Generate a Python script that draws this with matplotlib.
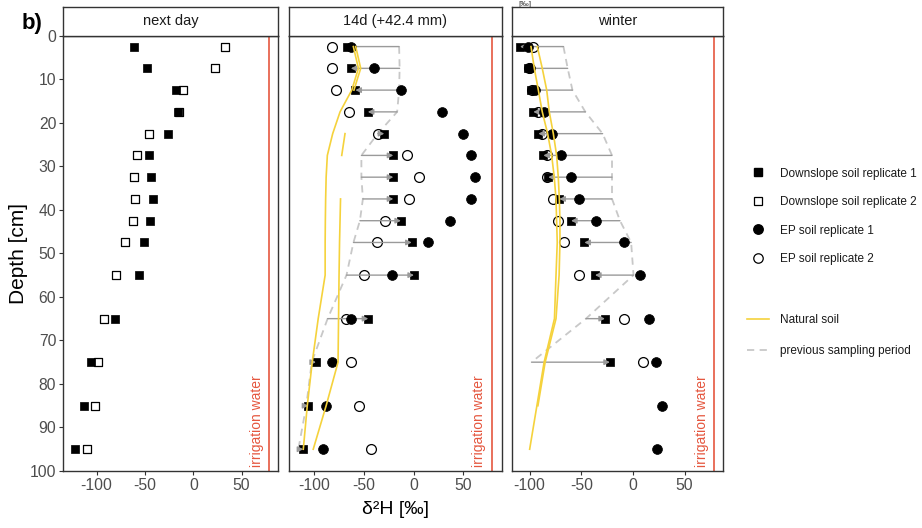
import numpy as np
import matplotlib
matplotlib.use("Agg")
import matplotlib.pyplot as plt
from matplotlib.lines import Line2D

plt.rcParams['font.family'] = ['Liberation Sans', 'DejaVu Sans']
plt.rcParams['axes.unicode_minus'] = False

nan = np.nan

# ---------------- data ----------------
depth = [2.5, 7.5, 12.5, 17.5, 22.5, 27.5, 32.5, 37.5, 42.5, 47.5, 55, 65, 75, 85, 95]
panel_titles = ["next day", "14d (+42.4 mm)", "winter"]
irrigation_water = 78.6

# next day
nd_ds1 = [-61, -48, -17.7, -16, -26.7, -45.5, -43.7, -41.3, -44.8, -51, -56, -81, -106, -113.5, -122]
nd_ds2 = [32.6, 22, -10.7, -15, -45.8, -58.7, -61, -60.4, -62.8, -70.5, -79.5, -92, -99, -102, -109.7]

# 14 d
d14_ds1 = [-67.3, -63.2, -58.6, -46.1, -29.4, -20.3, -20.3, -20.3, -12.6, -1.8, 0.5, -45.5, -98.2, -105.9, -111]
d14_ep1 = [-63.2, -39.8, -12.9, 28.4, 49.5, 57.9, 61.9, 58.2, 36.8, 14.3, -21.7, -62.6, -81.8, -88.4, -90.8]
d14_ep2 = [-81.8, -81.8, -78, -64.6, -36, -6.5, 5.9, -4.9, -28.7, -36.5, -49.8, -68.3, -63.2, -54.6, -42.8]
d14_prev = [-14.5, -14, -14.5, -16.5, -36, -52.5, -52.5, -51, -54, -60.5, -67.5, -86.5, -102.5, -108, -116]
d14_nat_a = [-60.6, -55.5, -62.2, -74, -81.4, -86.8, -88, -88.5, -88.8, -89, -89, -96, -102, -107, -111]
d14_nat_b = [-58.2, -53.2, -60, nan, -69, -72.3, nan, -73.5, -74, -74.5, -75, -75.5, -76, -88, -101]

# winter
w_ds1 = [-109.4, -101.3, -98.7, -96.5, -91.6, -86.8, -82, -71.3, -60, -47.1, -36.8, -27.1, -22.3, nan, nan]
w_ep1 = [-102, -100, -94.9, -86.2, -78.1, -69.7, -60.3, -52.3, -35.8, -8.7, 6.8, 15.5, 22.3, 27.8, 23.5]
w_ep2 = [-96.5, -101, -98, -91.6, -87.7, -83.5, -83, -77.1, -72.9, -66.8, -52.3, -8.4, 9.4, nan, nan]
w_prev = [-67.3, -63.2, -58.6, -46.1, -29.4, -20.3, -20.3, -20.3, -12.6, -1.8, 0.5, -45.5, -98.2, nan, nan]
w_nat_a = [-98.7, -95.5, -91.6, -87.8, -82.6, -78.7, -76.2, -74.5, -73.9, -73.3, -74.5, -76, -86, -93, -100]
w_nat_b = [-92.6, -87.8, -83.5, -81, -77.1, -73.9, -72.3, -71.3, -70.7, -70.7, -71.5, -74.5, -85, -92, nan]

xticks = [-100, -50, 0, 50]
yticks = [0, 10, 20, 30, 40, 50, 60, 70, 80, 90, 100]

panels = [
    dict(ds1=nd_ds1, ds2=nd_ds2, ep1=None, ep2=None, prev=None, nat=None),
    dict(ds1=d14_ds1, ds2=None, ep1=d14_ep1, ep2=d14_ep2, prev=d14_prev, nat=(d14_nat_a, d14_nat_b)),
    dict(ds1=w_ds1, ds2=None, ep1=w_ep1, ep2=w_ep2, prev=w_prev, nat=(w_nat_a, w_nat_b)),
]

# ---------------- layout ----------------
W, H = 922, 528
fig = plt.figure(figsize=(W / 100, H / 100), dpi=100)

def fx(px):
    return px / W

def fy(py):
    return 1 - py / H

lefts = [63.3, 289.0, 512.3]
rights = [278.3, 501.7, 723.3]
xlims = [(-134.5, 87.9), (-125.4, 88.8), (-116.8, 87.4)]
p_top, p_bot, s_top = 35.7, 471.0, 6.7

frame_col = '#333333'
tick_col = '#4d4d4d'
red = '#e5573f'
yellow = '#f5d23c'
dash_col = '#c8c8c8'
arrow_col = '#9a9a9a'

for i, pdata in enumerate(panels):
    l, r = lefts[i], rights[i]
    ax = fig.add_axes([fx(l), fy(p_bot), (r - l) / W, (p_bot - p_top) / H])
    ax.set_xlim(*xlims[i])
    ax.set_ylim(100, 0)
    ax.set_xticks(xticks)
    ax.set_yticks(yticks)
    for sp in ax.spines.values():
        sp.set_color(frame_col)
        sp.set_linewidth(1.0)
    ax.tick_params(colors=frame_col, labelcolor=tick_col, labelsize=11.3, length=3, width=0.8, pad=2)
    if i > 0:
        ax.tick_params(left=False, labelleft=False)

    # irrigation water
    ax.axvline(irrigation_water, color=red, lw=1.2, zorder=1)
    ax.annotate('irrigation water', xy=(irrigation_water, 100), xytext=(-12.6, 4),
                textcoords='offset pixels', rotation=90, ha='center', va='bottom',
                color=red, fontsize=10)

    # previous sampling period + arrows
    if pdata['prev'] is not None:
        ax.plot(pdata['prev'], depth, color=dash_col, lw=1.3, ls=(0, (4, 3)), zorder=2)
        for xp, xc, d in zip(pdata['prev'], pdata['ds1'], depth):
            if np.isfinite(xp) and np.isfinite(xc):
                ax.annotate('', xy=(xc, d), xytext=(xp, d),
                            arrowprops=dict(arrowstyle='-|>', color=arrow_col, lw=1.0,
                                            mutation_scale=8, shrinkA=0, shrinkB=0),
                            zorder=5)

    if pdata['ep2'] is not None:
        ax.scatter(pdata['ep2'], depth, s=50, marker='o', facecolor='white',
                   edgecolor='black', linewidth=0.9, zorder=3)
    if pdata['ds2'] is not None:
        ax.scatter(pdata['ds2'], depth, s=40, marker='s', facecolor='white',
                   edgecolor='black', linewidth=0.9, zorder=3)
    ax.scatter(pdata['ds1'], depth, s=40, marker='s', facecolor='black',
               edgecolor='black', linewidth=0.5, zorder=4)
    if pdata['ep1'] is not None:
        ax.scatter(pdata['ep1'], depth, s=50, marker='o', facecolor='black',
                   edgecolor='black', linewidth=0.5, zorder=6)
    if pdata['nat'] is not None:
        for line in pdata['nat']:
            ax.plot(line, depth, color=yellow, lw=1.2, zorder=7)

    # strip
    sax = fig.add_axes([fx(l), fy(p_top), (r - l) / W, (p_top - s_top) / H])
    sax.set_xticks([])
    sax.set_yticks([])
    sax.set_facecolor('white')
    for sp in sax.spines.values():
        sp.set_color(frame_col)
        sp.set_linewidth(1.0)
    sax.text(0.5, 0.5, panel_titles[i], ha='center', va='center',
             fontsize=10.5, color='#1a1a1a', transform=sax.transAxes)

# labels
fig.text(fx(22), fy(24), 'b)', fontsize=16, fontweight='bold', ha='left', va='center')
fig.text(fx(18), fy(253), 'Depth [cm]', rotation=90, ha='center', va='center', fontsize=15)
fig.text(fx(395.3), fy(509), 'δ²H [‰]', ha='center', va='center', fontsize=14)
fig.text(fx(525), 1 - 0.5 / H, '[‰]', ha='center', va='top', fontsize=6, color='#333333')

# legends
h1 = [
    Line2D([], [], ls='none', marker='s', markersize=6.2, markerfacecolor='black', markeredgecolor='black'),
    Line2D([], [], ls='none', marker='s', markersize=6.2, markerfacecolor='white', markeredgecolor='black', markeredgewidth=0.9),
    Line2D([], [], ls='none', marker='o', markersize=6.8, markerfacecolor='black', markeredgecolor='black'),
    Line2D([], [], ls='none', marker='o', markersize=6.8, markerfacecolor='white', markeredgecolor='black', markeredgewidth=0.9),
]
l1 = ["Downslope soil replicate 1", "Downslope soil replicate 2", "EP soil replicate 1", "EP soil replicate 2"]
leg1 = fig.legend(h1, l1, loc='upper left', bbox_to_anchor=(fx(746.7), fy(167.5)), frameon=False,
                  fontsize=8.5, handlelength=1.85, handletextpad=1.0, labelspacing=1.4,
                  borderpad=0, borderaxespad=0)
for t in leg1.get_texts():
    t.set_color('#1a1a1a')
h2 = [
    Line2D([], [], color=yellow, lw=1.2),
    Line2D([], [], color=dash_col, lw=1.3, ls=(0, (4, 3))),
]
l2 = ["Natural soil", "previous sampling period"]
leg2 = fig.legend(h2, l2, loc='upper left', bbox_to_anchor=(fx(746.7), fy(314)), frameon=False,
                  fontsize=8.5, handlelength=1.85, handletextpad=1.0, labelspacing=1.6,
                  borderpad=0, borderaxespad=0)
for t in leg2.get_texts():
    t.set_color('#1a1a1a')

fig.savefig('out.png', dpi=100)
